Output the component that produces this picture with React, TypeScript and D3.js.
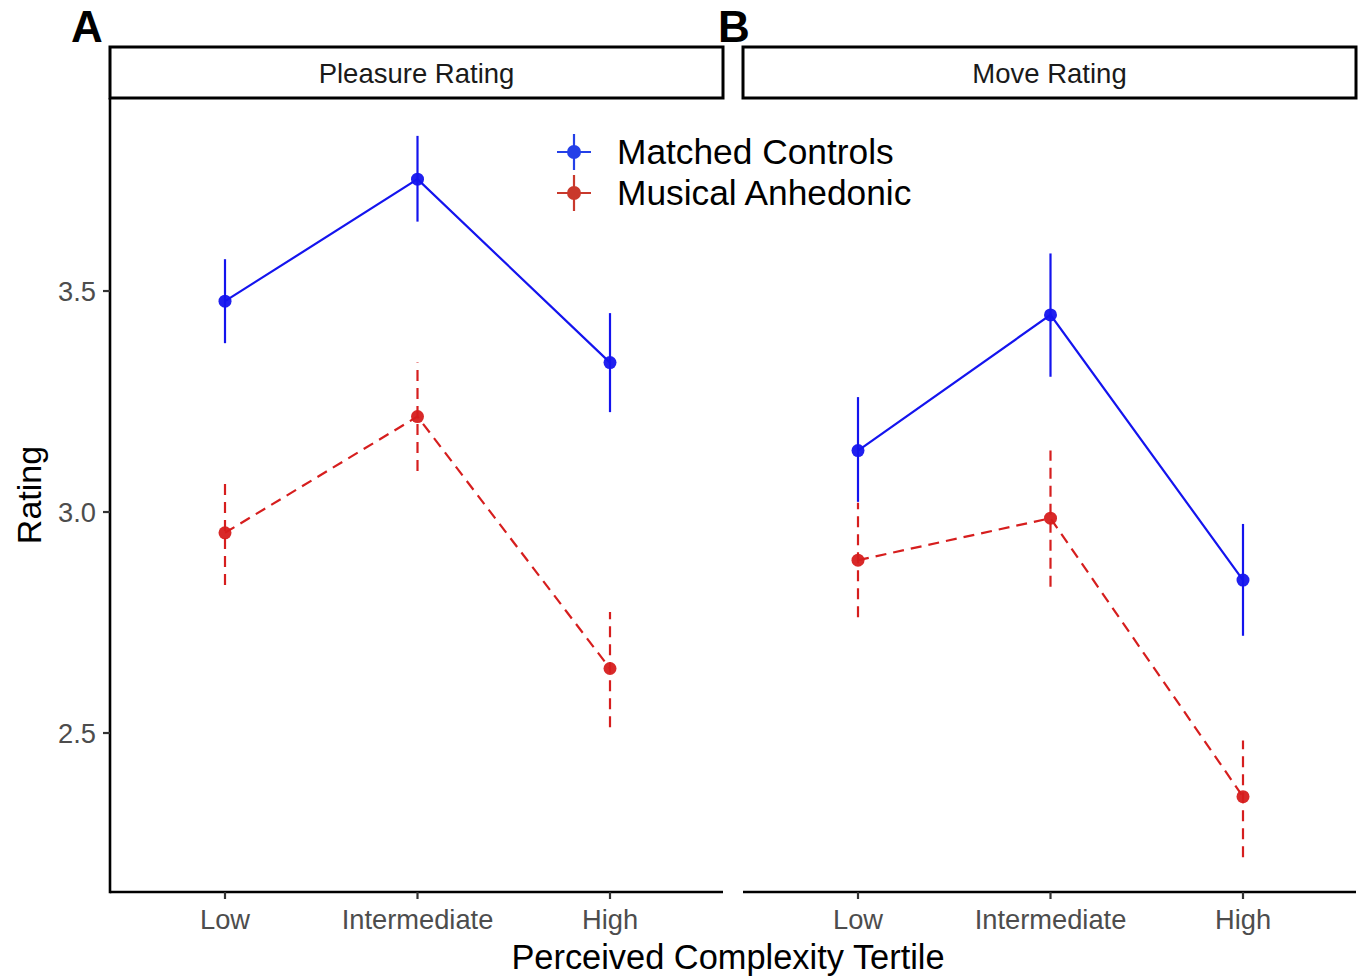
import React from "react";
import * as d3 from "d3";

const categories = ["Low", "Intermediate", "High"];
const facets = ["Pleasure Rating", "Move Rating"];
const groups = ["Matched Controls", "Musical Anhedonic"];

// Pleasure Rating
const pleasureControlsMean = [3.477, 3.753, 3.338];
const pleasureControlsLo = [3.382, 3.657, 3.226];
const pleasureControlsHi = [3.572, 3.851, 3.450];
const pleasureAnhedonicMean = [2.953, 3.216, 2.646];
const pleasureAnhedonicLo = [2.835, 3.093, 2.513];
const pleasureAnhedonicHi = [3.072, 3.338, 2.774];

// Move Rating
const moveControlsMean = [3.139, 3.446, 2.846];
const moveControlsLo = [3.023, 3.306, 2.720];
const moveControlsHi = [3.260, 3.585, 2.973];
const moveAnhedonicMean = [2.891, 2.986, 2.356];
const moveAnhedonicLo = [2.762, 2.831, 2.219];
const moveAnhedonicHi = [3.021, 3.139, 2.483];

const yTicks = [2.5, 3.0, 3.5];
const yDomain = [2.1403, 3.9367];

const W = 1359;
const H = 976;
const panelTop = 98;
const panelBottom = 892;
const panels = [
  { x0: 110, x1: 723 },
  { x0: 743, x1: 1356 },
];

const BLUE = "#1414ee";
const RED = "#d61e1e";
const FONT = "'Liberation Sans', Arial, Helvetica, sans-serif";

type Series = { mean: number[]; lo: number[]; hi: number[]; color: string; dash?: string };

const facetData: Series[][] = [
  [
    { mean: pleasureAnhedonicMean, lo: pleasureAnhedonicLo, hi: pleasureAnhedonicHi, color: RED, dash: "11,7" },
    { mean: pleasureControlsMean, lo: pleasureControlsLo, hi: pleasureControlsHi, color: BLUE },
  ],
  [
    { mean: moveAnhedonicMean, lo: moveAnhedonicLo, hi: moveAnhedonicHi, color: RED, dash: "11,7" },
    { mean: moveControlsMean, lo: moveControlsLo, hi: moveControlsHi, color: BLUE },
  ],
];

export default function App() {
  const y = d3.scaleLinear().domain(yDomain).range([panelBottom, panelTop]);

  return (
    <svg
      width={W}
      height={H}
      style={{ position: "absolute", left: 0, top: 0, background: "#fff" }}
      fontFamily={FONT}
    >
      <rect x={0} y={0} width={W} height={H} fill="#fff" />
      {panels.map((p, pi) => {
        const x = d3.scalePoint<string>().domain(categories).range([p.x0 - 0.5, p.x1 + 2.5]).padding(0.6);
        const line = d3
          .line<number>()
          .x((_, i) => x(categories[i]) as number)
          .y((d) => y(d));
        return (
          <g key={pi}>
            {/* strip */}
            <rect x={p.x0} y={47} width={p.x1 - p.x0} height={panelTop - 47} fill="#fff" stroke="#000" strokeWidth={3} />
            <text x={(p.x0 + p.x1) / 2} y={73} dy="0.35em" textAnchor="middle" fontSize={27.5} fill="#1a1a1a">
              {facets[pi]}
            </text>
            {/* x axis */}
            <line x1={p.x0} x2={p.x1} y1={panelBottom} y2={panelBottom} stroke="#000" strokeWidth={2.6} />
            {categories.map((c) => (
              <g key={c}>
                <line x1={x(c)} x2={x(c)} y1={panelBottom} y2={panelBottom + 7} stroke="#333" strokeWidth={2.2} />
                <text x={x(c)} y={919} dy="0.35em" textAnchor="middle" fontSize={27.3} fill="#4d4d4d">
                  {c}
                </text>
              </g>
            ))}
            {/* y axis (left panel only) */}
            {pi === 0 && (
              <g>
                <line x1={p.x0} x2={p.x0} y1={panelTop} y2={panelBottom + 1.3} stroke="#000" strokeWidth={2.6} />
                {yTicks.map((t) => (
                  <g key={t}>
                    <line x1={p.x0 - 7} x2={p.x0} y1={y(t)} y2={y(t)} stroke="#333" strokeWidth={2.2} />
                    <text x={p.x0 - 14} y={y(t)} dy="0.35em" textAnchor="end" fontSize={27.3} fill="#4d4d4d">
                      {t.toFixed(1)}
                    </text>
                  </g>
                ))}
              </g>
            )}
            {/* data */}
            {facetData[pi].map((s, si) => (
              <g key={si}>
                {s.mean.map((m, i) => (
                  <line
                    key={"e" + i}
                    x1={x(categories[i])}
                    x2={x(categories[i])}
                    y1={y(s.lo[i])}
                    y2={y(s.hi[i])}
                    stroke={s.color}
                    strokeWidth={2.2}
                    strokeDasharray={s.dash}
                  />
                ))}
                <path d={line(s.mean) || ""} fill="none" stroke={s.color} strokeWidth={2.2} strokeDasharray={s.dash} />
                {s.mean.map((m, i) => (
                  <circle key={"p" + i} cx={x(categories[i])} cy={y(m)} r={6.5} fill={s.color} fillOpacity={0.95} />
                ))}
              </g>
            ))}
          </g>
        );
      })}
      {/* legend */}
      {groups.map((g, i) => {
        const cy = 152 + i * 41;
        const col = i === 0 ? "#2440e8" : "#c9392c";
        return (
          <g key={g}>
            <line x1={557} x2={591} y1={cy} y2={cy} stroke={col} strokeWidth={2.2} />
            <line x1={574} x2={574} y1={cy - 18} y2={cy + 18} stroke={col} strokeWidth={2.2} />
            <circle cx={574} cy={cy} r={7} fill={col} />
            <text x={617} y={cy} dy="0.35em" fontSize={35.3} fill="#000">
              {g}
            </text>
          </g>
        );
      })}
      {/* axis titles */}
      <text x={728} y={957} dy="0.35em" textAnchor="middle" fontSize={34.4} fill="#000">
        Perceived Complexity Tertile
      </text>
      <text transform={`translate(29,${(panelTop + panelBottom) / 2}) rotate(-90)`} dy="0.35em" textAnchor="middle" fontSize={34} fill="#000">
        Rating
      </text>
      {/* panel tags */}
      <text x={71} y={42} fontSize={44} fontWeight="bold" fill="#000">A</text>
      <text x={718} y={42} fontSize={44} fontWeight="bold" fill="#000">B</text>
    </svg>
  );
}
